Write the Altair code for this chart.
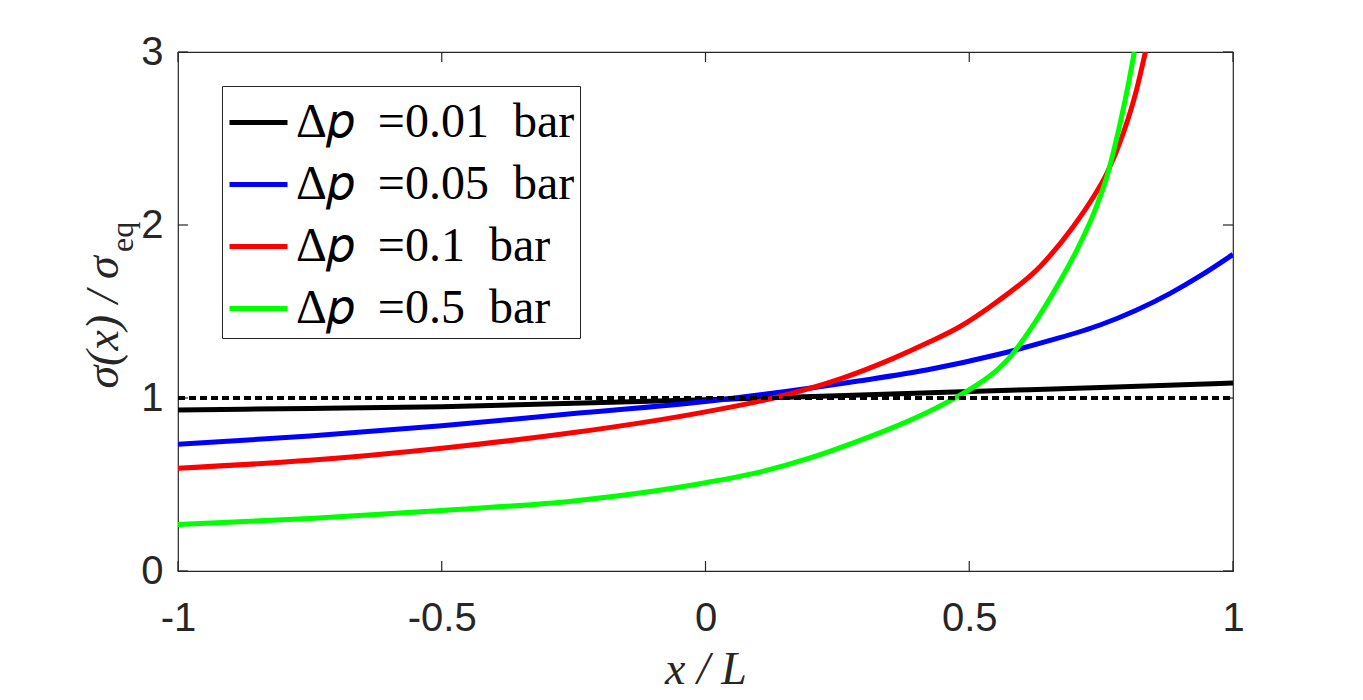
import altair as alt
import pandas as pd

# ---- data ----
NB = "\u00a0"
labels = [f"Δ𝑝{NB}{NB}=0.01{NB}{NB}bar", f"Δ𝑝{NB}{NB}=0.05{NB}{NB}bar",
          f"Δ𝑝{NB}{NB}=0.1{NB}{NB}bar", f"Δ𝑝{NB}{NB}=0.5{NB}{NB}bar"]
colors = ["#000000", "#0000FF", "#FF0000", "#00FF00"]

x_k = [-1, -0.75, -0.5, 0, 0.25, 0.5, 0.75, 1]
y_k = [0.93, 0.94, 0.95, 0.99, 1.013, 1.038, 1.06, 1.087]

x_b = [-1, -0.75, -0.5, -0.25, 0, 0.2, 0.293, 0.419, 0.552, 0.65, 0.748, 0.881, 0.94, 1.0]
y_b = [0.733, 0.78, 0.84, 0.91, 0.98, 1.058, 1.10, 1.162, 1.25, 1.33, 1.422, 1.605, 1.71, 1.83]

x_r = [-1, -0.75, -0.5, -0.25, 0, 0.125, 0.261, 0.356, 0.419, 0.482, 0.552, 0.634, 0.697,
       0.735, 0.761, 0.792, 0.817, 0.834]
y_r = [0.594, 0.64, 0.71, 0.80, 0.92, 0.997, 1.116, 1.229, 1.316, 1.412, 1.555, 1.759, 1.99,
       2.16, 2.299, 2.53, 2.78, 3.0]

x_g = [-1, -0.75, -0.5, -0.25, 0, 0.1, 0.2, 0.293, 0.356, 0.419, 0.47, 0.514, 0.552, 0.571,
       0.621, 0.666, 0.704, 0.735, 0.761, 0.786, 0.802, 0.813]
y_g = [0.269, 0.303, 0.35, 0.405, 0.51, 0.57, 0.655, 0.755, 0.83, 0.915, 0.995, 1.074, 1.16,
       1.215, 1.42, 1.643, 1.855, 2.06, 2.28, 2.588, 2.819, 3.0]

x_ref = [-1, 1]
y_ref = [1, 1]

x_ticks = [-1, -0.5, 0, 0.5, 1]
y_ticks = [0, 1, 2, 3]

W, H = 1055, 519
FRAME = "#262626"

xs = alt.Scale(domain=[-1, 1], nice=False, zero=False)
ys = alt.Scale(domain=[0, 3], nice=False, zero=False)
cs = alt.Scale(domain=labels, range=colors)

xaxis = alt.Axis(values=x_ticks, ticks=False, domain=False, grid=False,
                 labelFont="Liberation Sans", labelFontSize=40, labelColor=FRAME,
                 labelPadding=27, labelFlush=False, labelOverlap=False,
                 labelExpr="'' + datum.value",
                 title="x / L", titleFont="Liberation Serif", titleFontStyle="italic",
                 titleFontWeight="normal", titleFontSize=46, titleColor=FRAME,
                 titleX=W / 2, titleY=112, titleAlign="center", titleBaseline="alphabetic")
yaxis = alt.Axis(values=y_ticks, ticks=False, domain=False, grid=False,
                 labelFont="Liberation Sans", labelFontSize=40, labelColor=FRAME,
                 labelPadding=15, labelFlush=False, labelOverlap=False,
                 title="σ(x) / σ", titleFont="Liberation Serif", titleFontStyle="italic",
                 titleFontWeight="normal", titleFontSize=46, titleColor=FRAME,
                 titleAngle=270, titleX=-61, titleY=270, titleAlign="center",
                 titleBaseline="alphabetic")

legend = alt.Legend(title=None, orient="none", legendX=44, legendY=34,
                    symbolType="stroke", symbolSize=3364, symbolStrokeWidth=5,
                    labelFont="Liberation Serif", labelFontSize=48, labelColor="black",
                    labelLimit=700, labelOffset=6, rowPadding=6, padding=5,
                    strokeColor=FRAME, fillColor="white", cornerRadius=0)


def series(xv, yv, lab):
    df = pd.DataFrame({"x": xv, "y": yv, "s": [lab] * len(xv)})
    return alt.Chart(df).mark_line(strokeWidth=5, clip=True, interpolate="monotone").encode(
        x=alt.X("x:Q", scale=xs, axis=xaxis),
        y=alt.Y("y:Q", scale=ys, axis=yaxis),
        color=alt.Color("s:N", scale=cs, legend=legend),
    )


l_k = series(x_k, y_k, labels[0])
l_b = series(x_b, y_b, labels[1])
l_r = series(x_r, y_r, labels[2])
l_g = series(x_g, y_g, labels[3])

ref = alt.Chart(pd.DataFrame({"x": x_ref, "y": y_ref})).mark_line(
    color="black", strokeWidth=4, strokeDash=[7, 4], clip=True
).encode(x=alt.X("x:Q", scale=xs, axis=xaxis), y=alt.Y("y:Q", scale=ys, axis=yaxis))

xt = pd.DataFrame({"x": x_ticks})
yt = pd.DataFrame({"y": y_ticks})
tick_style = dict(color=FRAME, strokeWidth=1.2)
t_bottom = alt.Chart(xt).mark_rule(**tick_style).encode(
    x=alt.X("x:Q", scale=xs, axis=xaxis), y=alt.value(H), y2=alt.value(H - 10))
t_top = alt.Chart(xt).mark_rule(**tick_style).encode(
    x=alt.X("x:Q", scale=xs, axis=xaxis), y=alt.value(0), y2=alt.value(10))
t_left = alt.Chart(yt).mark_rule(**tick_style).encode(
    y=alt.Y("y:Q", scale=ys, axis=yaxis), x=alt.value(0), x2=alt.value(10))
t_right = alt.Chart(yt).mark_rule(**tick_style).encode(
    y=alt.Y("y:Q", scale=ys, axis=yaxis), x=alt.value(W), x2=alt.value(W - 10))

sub = alt.Chart(pd.DataFrame({"t": ["eq"]})).mark_text(
    angle=270, align="left", baseline="alphabetic", font="Liberation Serif",
    fontSize=32, color=FRAME
).encode(x=alt.value(-45), y=alt.value(200), text="t:N")

chart = alt.layer(t_bottom, t_top, t_left, t_right, l_k, l_b, l_r, l_g, ref, sub).properties(
    width=W, height=H,
    autosize=alt.AutoSizeParams(type="none"),
    padding={"left": 170, "top": 44, "right": 110, "bottom": 121},
    background="white",
).configure_view(stroke=FRAME, strokeWidth=1.2)

chart.save("out.html", embed_options={"renderer": "svg", "actions": False})
